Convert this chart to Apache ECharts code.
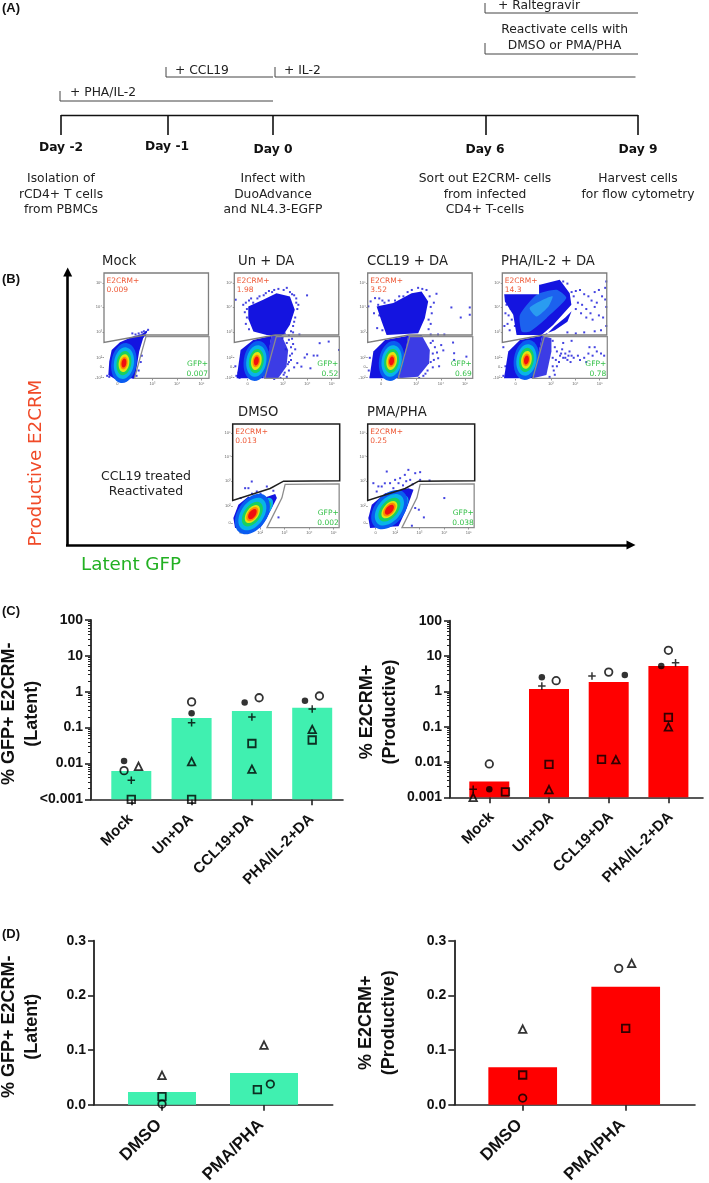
<!DOCTYPE html>
<html><head><meta charset="utf-8">
<style>html,body{margin:0;padding:0;background:#fff}#c{width:709px;height:1183px}</style>
<script src="https://cdn.jsdelivr.net/npm/echarts@6/dist/echarts.min.js"></script>
</head><body><div id="c"></div>
<script>
// ---------- Panel C: latent ----------
const cCats = ['Mock','Un+DA','CCL19+DA','PHA/IL-2+DA'];
const cLatentMean = [0.0062,0.185,0.29,0.36];
const cLatentOpen = [0.0063,0.52,0.68,0.76];
const cLatentOpenDx = [-0.12,0,0.12,0.12];
const cLatentFilled = [0.0117,0.25,0.50,0.56];
const cLatentFilledDx = [-0.12,0,-0.12,-0.12];
const cLatentTri = [0.0083,0.0112,0.0069,0.089];
const cLatentTriDx = [0.12,0,0,0];
const cLatentSq = [0.001,0.001,0.036,0.045];
const cLatentSqDx = [0,0,0,0];
const cLatentPlus = [0.0034,0.137,0.198,0.33];
const cLatentPlusDx = [0,0,0,0];
// ---------- Panel C: productive ----------
const cProdMean = [0.0028,1.16,1.84,5.2];
const cProdOpen = [0.0088,2.0,3.5,14.5];
const cProdOpenDx = [0,0.12,0,0];
const cProdFilled = [0.00168,2.49,2.9,5.2];
const cProdFilledDx = [0,-0.12,0.27,-0.12];
const cProdTri = [0.001,0.00165,0.0116,0.098];
const cProdTriDx = [-0.27,0,0.12,0];
const cProdSq = [0.00142,0.0086,0.0119,0.184];
const cProdSqDx = [0.27,0,-0.12,0];
const cProdPlus = [0.00168,1.41,2.7,6.5];
const cProdPlusDx = [-0.27,-0.12,-0.28,0.12];
// ---------- Panel D ----------
const dCats = ['DMSO','PMA/PHA'];
const dLatentMean = [0.0232,0.0579];
const dLatentOpen = [0.0012,0.0378];
const dLatentOpenDx = [0,0.062];
const dLatentTri = [0.0537,0.109];
const dLatentTriDx = [0,0];
const dLatentSq = [0.0146,0.0274];
const dLatentSqDx = [0,-0.065];
const dProdMean = [0.0683,0.2159];
const dProdOpen = [0.0122,0.2494];
const dProdOpenDx = [0,-0.068];
const dProdTri = [0.1384,0.2585];
const dProdTriDx = [0,0.058];
const dProdSq = [0.0543,0.1396];
const dProdSqDx = [0,0];
// ---------- Panel A text ----------
const dayLabels = ['Day -2','Day -1','Day 0','Day 6','Day 9'];
const stepLabels = [['Isolation of','rCD4+ T cells','from PBMCs'],[],['Infect with','DuoAdvance','and NL4.3-EGFP'],['Sort out E2CRM- cells','from infected','CD4+ T-cells'],['Harvest cells','for flow cytometry']];
// ---------- Panel B: gates and populations (axis units 0-100) ----------
const flowTitles = ['Mock','Un + DA','CCL19 + DA','PHA/IL-2 + DA','DMSO','PMA/PHA'];
const flowE2crm = ['0.009','1.98','3.52','14.3','0.013','0.25'];
const flowGfp = ['0.007','0.52','0.69','0.78','0.002','0.038'];
const topGateUpper = [[0,100],[99.5,100],[99.5,41.5],[39,41.5],[0,34.5]];
const topGateLower = [[100,40],[40,40],[29,0.6],[100,0.6]];
const lowGateUpper = [[0,100],[100,100],[100,45.5],[47.5,45],[35,38],[0,26.5]];
const lowGateLower = [[99.5,42.5],[49,42],[46,29],[32,0.3],[99.5,0.3]];
const topTicksX = [12.7,46.2,69.6,92.8], topTicksXText = ['0','10³','10⁴','10⁵'];
const topTicksY = [1.3,11,20.2,44.2,67.8,90.5], topTicksYText = ['-10²','0','10²','10³','10⁴','10⁵'];
const lowTicksX = [7.5,25.6,48.4,71.6,94.4], lowTicksXText = ['0','10²','10³','10⁴','10⁵'];
const lowTicksY = [4.8,20.8,45.4,68.7,91.4], lowTicksYText = ['0','10²','10³','10⁴','10⁵'];
const densityColors = ['#0a5cf0','#08b4e8','#18d060','#e4e410','#ff8a00','#f01010'];
const topCoreRadii = [[12,19],[9.5,15],[7,11.5],[5,8.5],[3.5,6],[2.3,4.3]];
const lowCoreRadii = [[21,14],[17,11],[13,8],[9.5,5.7],[7.5,4.5],[5.5,3.2]];
const lobeRadii = [[10,6],[7,4.5],[4,2.5]];
const mockBlue = [[[7.3,27.4],[15.2,34.7],[27.8,40],[35.8,42.3],[42,46.4],[37.3,38.5],[33.5,25.9],[29.4,0.6],[10.4,0],[4.1,3.8],[5,16.4]]];
const mockDots = [[42,46.4],[40,44],[38,45],[36,44],[33,43],[30,42],[27,43],[37,40],[39,41],[34,41],[31,3],[33,8],[35,16],[36,22],[28,1],[5,2],[3,3]];
const unBlue = [[[13.3,68.5],[27.5,74.7],[40.2,81],[53,77.9],[57.6,65.3],[53,51.1],[46.7,41.6],[30.9,41.6],[18.2,44.8],[13.3,56.8]],
 [[2.2,0.6],[6,27.4],[18,36.9],[35.4,40.7],[32.3,22.7],[27.5,0.6]]];
const unColumn = [[[35.4,40.7],[44.9,41.6],[51.3,27.4],[49.7,11.7],[41.8,0.6],[27.5,0.6]]];
const unDots = [[81.3,33.8],[89.9,35.3],[99.7,27.4],[69.3,23.3],[75.6,22.1],[79.1,22.1],[72.5,10.1],[67,20.2],[63.9,11.7],[69.3,78.9],[1.3,74.8],[8.5,70],[11,72],[14,74],[18,72],[22,76],[28,79],[33,83],[38,84],[42,85],[47,84],[53,82],[57,79],[59,72],[60,66],[58,58],[56,50],[10,63],[11,52],[14,47],[52,37],[54,30],[55,24],[54,18],[52,8],[47,4],[44,1],[56,33],[58,28],[60,15],[57,11],[50,2],[38,0],[5,1],[2,3],[1,12],[4,6],[62,42],[56,44],[48,43],[52,41],[12,66],[16,76],[24,78],[30,81],[36,82],[50,86],[55,80],[59,76],[61,70],[57,54],[54,45],[16,60],[12,58],[50,34],[53,22],[51,14],[48,6],[46,39],[49,28],[52,16],[55,38]];
const cclBlue = [[[8.5,68.5],[24.4,71.6],[41.8,81],[51.3,82.6],[57.6,73.2],[54.4,57.4],[48.1,43.2],[18,41.6],[13.3,54.3]],
 [[1.6,0.6],[5.4,25.9],[16.5,36.9],[38.6,40.7],[35.4,22.7],[30,0.6]]];
const cclColumn = [[[38.6,40.7],[51.3,41.6],[59.2,27.4],[58.5,14.8],[48,2.2],[30,0.6]]];
const cclDots = [[79.7,67.5],[88.6,58],[97.2,67.5],[97.2,60.6],[65.5,80.4],[7,76.3],[2.8,73.2],[0.6,68.5],[81.3,34.4],[67.1,19.6],[82.3,24.3],[82.3,18],[94,21.1],[63,72],[61,62],[60,52],[58,47],[56,84],[48,86],[42,84],[34,78],[26,74],[16,72],[11,76],[6,62],[9,48],[62,36],[64,30],[66,25],[63,18],[62,11],[57,8],[53,3],[70,32],[72,27],[68,12],[49,1],[3,2],[1,8],[2,20],[4,4],[60,42],[67,42],[73,42],[10,70],[14,74],[20,74],[30,78],[38,82],[52,85],[59,78],[60,68],[58,56],[11,60],[14,46],[60,34],[62,24],[60,16],[55,5]];
const phaBlue = [[[1,89],[35.8,89],[54.7,93.7],[64.2,81],[65.8,70],[48.4,51],[37.3,41.6],[13.6,41.6],[10.4,60.6],[2.5,73.2]],
 [[1.6,0.6],[5.7,25.9],[16.8,36.9],[38,40.7],[34.2,22.7],[29.4,0.6]],
 [[37,41],[50,46],[62,54],[66,64],[60,58],[50,50],[42,42]]];
const phaAzure = [[[16.8,60.6],[32.6,79.5],[51.6,84.2],[61,76.3],[42.1,57.4],[26.3,44.8],[18.4,44.8]]];
const phaLight = [[[26,67],[39,75],[48,78],[44,68.5],[32.6,59]]];
const phaColumn = [[[38,40.7],[46.8,38.5],[46.8,25.9],[42,3.8],[29.4,0.6]]];
const phaDots = [[99,92],[98,86],[95,78],[92,84],[88,82],[85,74],[82,78],[78,80],[74,84],[70,83],[68,78],[72,72],[76,70],[80,66],[84,62],[88,68],[92,60],[96,58],[99,68],[98,75],[90,72],[86,56],[80,58],[75,62],[70,66],[66,82],[62,90],[58,92],[99,50],[94,46],[88,45],[78,44],[70,43],[62,44],
 [48,36],[50,30],[52,26],[55,22],[58,20],[60,24],[62,18],[65,16],[68,20],[64,26],[57,28],[54,16],[52,12],[49,8],[45,2],[50,4],[72,22],[74,18],[78,20],[82,24],[86,22],[90,26],[94,24],[97,22],[80,16],[88,30],[83,30],[66,36],[58,34],[1,30],[2,50],[5,52],[7,46],[4,70],[8,66],[3,12],[1,3],[4,2],[6,76],[9,56],[12,50],[3,62],[6,60],[56,24],[60,20],[63,22],[48,20],[51,18],[48,12],[66,22]];
const dmsoBlue = [[[0.6,9.6],[5.3,22.4],[14.7,30.4],[24,27.2],[39.7,32.6],[41.3,28.8],[31.9,9.6],[25.6,0],[2.2,0]]];
const dmsoDots = [[17.8,44.7],[11.6,38.3],[22.5,35.1],[31.9,39.9],[14.7,38.3],[28.8,28.8],[42.8,10.2],[7.5,28.8],[38,35.8],[26,33],[18,33]];
const pmaBlue = [[[0.6,9.6],[3.8,22.4],[16.3,33.5],[38,38.3],[42.8,36.7],[36.6,19.2],[28.8,1.6],[2.2,0]]];
const pmaDots = [[38,55.9],[34.7,51.1],[17.8,54.3],[49,53.7],[44.4,52.7],[25.6,46.3],[28.8,43.1],[30.3,47.9],[20.9,43.1],[13.1,39.9],[5.3,43.1],[8.4,35.1],[39.7,46.3],[49,46.3],[57.8,45.7],[71.6,28.8],[44.4,19.2],[47.8,17.6],[52.5,10.2],[41.3,2.2],[16,43],[24,38.3],[33,41],[36,45],[42,42],[10,40]];

const SANS = '"Liberation Sans",Arial,sans-serif', DV = '"DejaVu Sans",sans-serif';
const MINT = '#40f0b0', RED = '#ff0000', INK = '#222222';
const PLUS = 'path://M4 0H6V4H10V6H6V10H4V6H0V4H4Z';

const grid = [], xAxis = [], yAxis = [], series = [], graphic = [];
function txt(text,x,y,font,fill,align,rot){
  graphic.push({type:'text',silent:true,x,y,rotation:rot||0,z:20,style:{text,x:0,y:0,font,fill,textAlign:align||'left',textVerticalAlign:'middle'}});
}
const addGrid = (left,top,width,height)=>grid.push({left,top,width,height,containLabel:false,outerBoundsMode:'none'});

// Schematic layer (panel A lines and panel B arrows) in page-sized hidden axes
addGrid(0,0,709,1183);
xAxis.push({type:'value',gridIndex:0,min:0,max:709,show:false});
yAxis.push({type:'value',gridIndex:0,min:0,max:1183,inverse:true,show:false});
const timelineLines = [
 [[61,115.5],[638,115.5]],[[61,115],[61,135]],[[168,115],[168,135]],[[273,115],[273,135]],[[486,115],[486,135]],[[638,115],[638,135]]];
const bracketLines = [
 [[60,91],[60,101],[273,101]],[[166,67],[166,77],[273,77]],[[275,67],[275,77],[635.5,77]],
 [[485,43],[485,54],[638,54]],[[485,3],[485,13],[638,13]]];
series.push({type:'lines',coordinateSystem:'cartesian2d',xAxisIndex:0,yAxisIndex:0,polyline:true,silent:true,
  lineStyle:{color:'#111',width:1.6,opacity:1},data:timelineLines.map(c=>({coords:c}))});
series.push({type:'lines',coordinateSystem:'cartesian2d',xAxisIndex:0,yAxisIndex:0,polyline:true,silent:true,
  lineStyle:{color:'#444',width:1,opacity:1},data:bracketLines.map(c=>({coords:c}))});
const axisArrows = [[[67.7,545],[67.7,272]],[[66,545],[631,545]]];
series.push({type:'lines',coordinateSystem:'cartesian2d',xAxisIndex:0,yAxisIndex:0,silent:true,symbol:['none','triangle'],symbolSize:9,
  lineStyle:{color:'#000',width:2.6,opacity:1},data:axisArrows.map(c=>({coords:c}))});

// Panel A text
const AF = '12.3px '+DV;
const dayX=[61,167,273,485,638], dayY=[148,147,150,150,150];
dayLabels.forEach((d,i)=>{txt(d,dayX[i],dayY[i],'bold 12.3px '+DV,'#111','center');
  stepLabels[i].forEach((s,j)=>txt(s,dayX[i],179+j*15.5,AF,'#222','center'));});
txt('+ PHA/IL-2',70,93,AF,'#222');
txt('+ CCL19',175,70.5,AF,'#222');
txt('+ IL-2',284,70.5,AF,'#222');
txt('+ Raltegravir',498,5.5,AF,'#222');
txt('Reactivate cells with',564.6,30,AF,'#222','center');
txt('DMSO or PMA/PHA',564.6,46,AF,'#222','center');
[['(A)',2,8],['(B)',2,279],['(C)',2,611],['(D)',2,934]].forEach(a=>txt(a[0],a[1],a[2],'bold 13px '+SANS,'#111'));
txt('Productive E2CRM',36.5,463,'18.3px '+DV,'#f04a28','center',Math.PI/2);
txt('Latent GFP',81,565,'18.3px '+DV,'#22b022');
txt('CCL19 treated',146,476.5,'12.5px '+DV,'#222','center');
txt('Reactivated',146,492,'12.5px '+DV,'#222','center');

// Flow panels
function flow(o){
  const g = grid.length;
  addGrid(o.left,o.top,o.w,o.h);
  const tx = o.low?lowTicksX:topTicksX, txT = o.low?lowTicksXText:topTicksXText;
  const ty = o.low?lowTicksY:topTicksY, tyT = o.low?lowTicksYText:topTicksYText;
  const fm = (arr,tt)=>v=>{const i=arr.indexOf(v);return i<0?'':tt[i];};
  xAxis.push({type:'value',gridIndex:g,min:0,max:100,position:'bottom',splitLine:{show:false},axisLine:{show:false},
    axisTick:{show:true,length:1.5,lineStyle:{color:'#555',width:.6},customValues:tx},
    axisLabel:{show:true,fontSize:4,color:'#666',margin:3,fontFamily:SANS,customValues:tx,formatter:fm(tx,txT)}});
  yAxis.push({type:'value',gridIndex:g,min:0,max:100,position:'left',splitLine:{show:false},axisLine:{show:false},
    axisTick:{show:true,length:1.5,lineStyle:{color:'#555',width:.6},customValues:ty},
    axisLabel:{show:true,fontSize:4,color:'#666',margin:2,fontFamily:SANS,customValues:ty,formatter:fm(ty,tyT)}});
  const poly = (list,style,smooth,z)=>series.push({type:'custom',xAxisIndex:g,yAxisIndex:g,silent:true,clip:false,z,
    data:list.map(p=>p[0]),
    renderItem:(p,api)=>({type:'polygon',shape:{points:list[p.dataIndex].map(q=>api.coord(q)),smooth},style})});
  const dots = (list,z)=>series.push({type:'scatter',xAxisIndex:g,yAxisIndex:g,silent:true,clip:true,z,symbol:'rect',symbolSize:2,
    itemStyle:{color:'#1414d8'},data:list});
  if(o.dots) dots(o.dots,2);
  if(o.column) poly(o.column,{fill:'#1a1ae0',opacity:.85},0,3);
  if(o.blue) poly(o.blue,{fill:'#1414e0'},0,3);
  if(o.azure) poly(o.azure,{fill:'#1c62ee'},0.2,3);
  if(o.light) poly(o.light,{fill:'#2a9cf0'},0.2,3);
  const ell = (items,z)=>series.push({type:'custom',xAxisIndex:g,yAxisIndex:g,silent:true,clip:false,z,
    data:items,renderItem:(p,api)=>{const it=items[p.dataIndex],c=api.coord([it[0],it[1]]),s=api.size([it[2],it[3]]);
      return {type:'ellipse',x:c[0],y:c[1],rotation:it[4]*Math.PI/180,shape:{cx:0,cy:0,rx:s[0],ry:s[1]},style:{fill:it[5]}};}});
  if(o.lobe) ell(lobeRadii.map((r,i)=>[o.lobe[0],o.lobe[1],r[0],r[1],o.tilt,densityColors[i+1]]),4);
  const radii=o.low?lowCoreRadii:topCoreRadii;
  ell(radii.map((r,i)=>[o.core[0],o.core[1],r[0],r[1],o.tilt,densityColors[i]]),5);
  if(o.mask) poly([o.mask],{fill:'#fff'},0,6);
  const upper=o.low?lowGateUpper:topGateUpper, lower=o.low?lowGateLower:topGateLower;
  poly([lower],{fill:'none',stroke:'#8c8c8c',lineWidth:1.3},0,7);
  poly([upper],{fill:'none',stroke:o.low?'#1e1e1e':'#7e7e7e',lineWidth:o.low?1.5:1.3},0,7);
  const i=o.i, px=o.left, py=o.top;
  txt(flowTitles[i],o.titleX,py-11,'13.2px '+DV,'#222');
  txt('E2CRM+',px+2.5,py+8,'7.5px '+DV,'#ee5a38');
  txt(flowE2crm[i],px+2.5,py+(o.low?17.5:17),'7.5px '+DV,'#ee5a38');
  txt('GFP+',px+o.w-1,py+o.h-15,'7.5px '+DV,'#34c048','right');
  txt(flowGfp[i],px+o.w-1,py+o.h-5,'7.5px '+DV,'#34c048','right');
}
flow({i:0,left:104,top:273,w:105,h:106,titleX:102,core:[19,15],tilt:-9,blue:mockBlue,dots:mockDots});
flow({i:1,left:234.3,top:273,w:105,h:106,titleX:238,core:[21,17],tilt:-9,blue:unBlue,column:unColumn,dots:unDots});
flow({i:2,left:367.7,top:273,w:105,h:106,titleX:367,core:[22.8,17],tilt:-9,blue:cclBlue,column:cclColumn,dots:cclDots});
flow({i:3,left:502.3,top:273,w:105,h:106,titleX:501,core:[23,18],tilt:-9,blue:phaBlue,azure:phaAzure,light:phaLight,column:phaColumn,dots:phaDots,
  mask:[[0.5,80],[35,80],[35,99.5],[0.5,99.5]]});
flow({i:4,left:232.7,top:424,w:107,h:104,titleX:238,core:[18.4,13.4],lobe:[30.3,20],tilt:55,blue:dmsoBlue,dots:dmsoDots,low:true});
flow({i:5,left:367.7,top:424,w:107,h:104,titleX:367,core:[20.3,17.6],lobe:[30.3,22.4],tilt:50,blue:pmaBlue,dots:pmaDots,low:true});

// Bar charts
function chart(o){
  const g = grid.length;
  addGrid(o.left,o.top,o.right-o.left,o.bottom-o.top);
  const xMin=(o.left-o.c0)/o.step, xMax=(o.right-o.c0)/o.step;
  const idx=o.cats.map((_,i)=>i);
  xAxis.push({type:'value',gridIndex:g,min:xMin,max:xMax,position:'bottom',splitLine:{show:false},
    axisLine:{show:true,onZero:false,lineStyle:{color:INK,width:1.6}},
    axisTick:{show:true,length:6,lineStyle:{color:INK,width:1.6},customValues:idx},
    axisLabel:{show:true,rotate:45,align:'right',verticalAlign:'top',margin:o.labelMargin,fontSize:o.labelSize,fontWeight:'bold',fontFamily:SANS,color:'#111',
      customValues:idx.map(i=>i+o.labelDx),formatter:v=>o.cats[Math.round(v)]}});
  const y={gridIndex:g,position:'left',splitLine:{show:false},
    axisLine:{show:true,onZero:false,lineStyle:{color:INK,width:1.8}},
    axisTick:{show:true,length:6,lineStyle:{color:INK,width:1.6}},
    axisLabel:{show:true,margin:8,fontSize:14,fontWeight:'bold',fontFamily:SANS,color:'#111'},
    name:o.name,nameLocation:'middle',nameGap:o.nameGap,nameRotate:90,nameMoveOverlap:false,
    nameTextStyle:{fontSize:18,fontWeight:'bold',fontFamily:SANS,color:'#111',lineHeight:23,align:'center',padding:[0,o.namePad||0,0,0]}};
  if(o.log){Object.assign(y,{type:'log',logBase:10,min:0.001,max:100,startValue:0.001,
      minorTick:{show:true,splitNumber:9,length:3,lineStyle:{color:INK,width:1}}});
    y.axisLabel.formatter=v=>{const n=Number(Number(v).toPrecision(1));return n<=0.001?o.floor:String(n);};}
  else{Object.assign(y,{type:'value',min:0,max:0.3,interval:0.1});y.axisLabel.formatter=v=>Number(v).toFixed(1);}
  yAxis.push(y);
  series.push({type:'bar',xAxisIndex:g,yAxisIndex:g,barWidth:o.barWidth,silent:true,z:2,itemStyle:{color:o.color},
    data:o.mean.map((v,i)=>[i,v])});
  const ring={color:'transparent',borderColor:'#000',borderWidth:1.8};
  const sc=(vals,dx,symbol,size,style)=>{ if(!vals) return;
    series.push({type:'scatter',xAxisIndex:g,yAxisIndex:g,clip:false,silent:true,z:5,symbol,symbolSize:size,itemStyle:style,
      data:vals.map((v,i)=>[i+dx[i],v])});};
  sc(o.open,o.openDx,'circle',7.5,ring);
  sc(o.filled,o.filledDx,'circle',6.5,{color:'#000'});
  sc(o.tri,o.triDx,'triangle',7.5,ring);
  sc(o.sq,o.sqDx,'rect',7.5,ring);
  sc(o.plus,o.plusDx,PLUS,7.5,{color:'#000'});
}
chart({left:91,right:343,top:620,bottom:799.3,c0:131.3,step:60.3,barWidth:40,cats:cCats,mean:cLatentMean,color:MINT,log:true,floor:'<0.001',
  name:'% GFP+ E2CRM-\n(Latent)',nameGap:47,namePad:8,labelSize:15,labelMargin:12,labelDx:-0.1,
  open:cLatentOpen,openDx:cLatentOpenDx,filled:cLatentFilled,filledDx:cLatentFilledDx,tri:cLatentTri,triDx:cLatentTriDx,sq:cLatentSq,sqDx:cLatentSqDx,plus:cLatentPlus,plusDx:cLatentPlusDx});
chart({left:450,right:703,top:620.7,bottom:797.3,c0:489.3,step:59.7,barWidth:40,cats:cCats,mean:cProdMean,color:RED,log:true,floor:'0.001',
  name:'% E2CRM+\n(Productive)',nameGap:48,namePad:6,labelSize:15,labelMargin:12,labelDx:-0.05,
  open:cProdOpen,openDx:cProdOpenDx,filled:cProdFilled,filledDx:cProdFilledDx,tri:cProdTri,triDx:cProdTriDx,sq:cProdSq,sqDx:cProdSqDx,plus:cProdPlus,plusDx:cProdPlusDx});
chart({left:94,right:332.7,top:940.7,bottom:1104.7,c0:162,step:102,barWidth:68,cats:dCats,mean:dLatentMean,color:MINT,
  name:'% GFP+ E2CRM-\n(Latent)',nameGap:50,namePad:8,labelSize:17,labelMargin:11.5,labelDx:-0.088,
  open:dLatentOpen,openDx:dLatentOpenDx,tri:dLatentTri,triDx:dLatentTriDx,sq:dLatentSq,sqDx:dLatentSqDx});
chart({left:454.3,right:695,top:940.7,bottom:1104.7,c0:522.7,step:103,barWidth:68.7,cats:dCats,mean:dProdMean,color:RED,
  name:'% E2CRM+\n(Productive)',nameGap:54,labelSize:17,labelMargin:11.5,labelDx:-0.088,
  open:dProdOpen,openDx:dProdOpenDx,tri:dProdTri,triDx:dProdTriDx,sq:dProdSq,sqDx:dProdSqDx});

const chartInst = echarts.init(document.getElementById('c'),null,{renderer:'canvas'});
chartInst.setOption({animation:false,backgroundColor:'#fff',grid,xAxis,yAxis,series,graphic});
</script></body></html>
